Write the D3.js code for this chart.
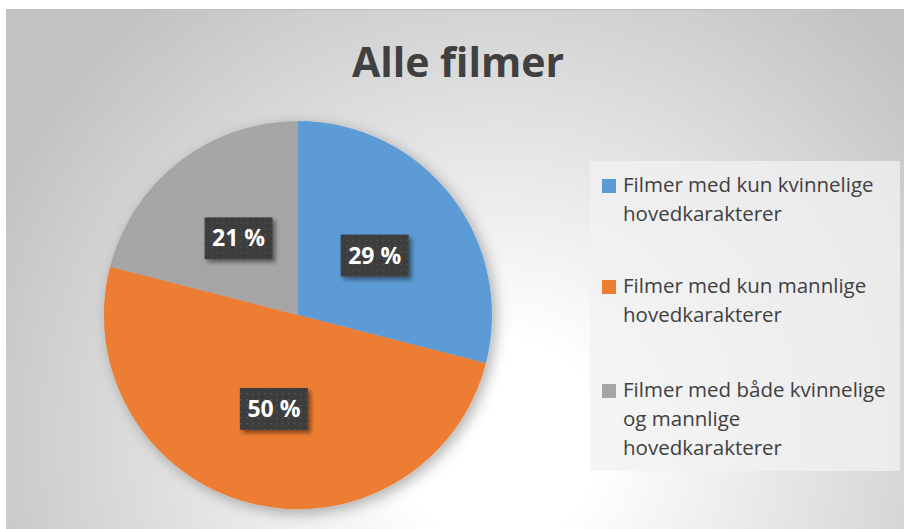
<!DOCTYPE html>
<html>
<head>
  <meta charset="utf-8">
  <title>Alle filmer</title>
  <script src="https://cdn.jsdelivr.net/npm/d3@7/dist/d3.min.js"></script>
  <style>
    body { margin: 0; background: #fff; }
    svg { display: block; font-family: 'Open Sans', sans-serif; }
  </style>
</head>
<body>
  <svg width="904" height="529" id="mainsvg"></svg>
  <script>
    // data
    const categories = [
      ['Filmer med kun kvinnelige', 'hovedkarakterer'],
      ['Filmer med kun mannlige', 'hovedkarakterer'],
      ['Filmer med både kvinnelige', 'og mannlige', 'hovedkarakterer']
    ];
    const shares = [29, 50, 21];
    const labels = ['29 %', '50 %', '21 %'];
    const colors = ['#5B9BD5', '#ED7D31', '#A5A5A5'];
    const title = 'Alle filmer';

    const svg = d3.select('svg');
    const width = +svg.attr('width');
    const height = +svg.attr('height');
    const defs = svg.append('defs');

    // background gradient
    const grad = defs.append('radialGradient').attr('id', 'bg')
      .attr('gradientUnits', 'userSpaceOnUse')
      .attr('cx', 500).attr('cy', 440).attr('r', 560);
    grad.append('stop').attr('offset', '0').attr('stop-color', '#ffffff');
    grad.append('stop').attr('offset', '0.18').attr('stop-color', '#ffffff');
    grad.append('stop').attr('offset', '1').attr('stop-color', '#c2c2c2');

    const pieShadow = defs.append('filter').attr('id', 'pieShadow')
      .attr('x', '-20%').attr('y', '-20%').attr('width', '140%').attr('height', '140%');
    pieShadow.append('feDropShadow').attr('dx', 4).attr('dy', 4)
      .attr('stdDeviation', 7).attr('flood-color', '#000').attr('flood-opacity', 0.3);

    const boxShadow = defs.append('filter').attr('id', 'boxShadow')
      .attr('x', '-20%').attr('y', '-20%').attr('width', '150%').attr('height', '150%');
    boxShadow.append('feDropShadow').attr('dx', 3).attr('dy', 3)
      .attr('stdDeviation', 2).attr('flood-color', '#000').attr('flood-opacity', 0.45);

    const dots = defs.append('pattern').attr('id', 'dots')
      .attr('patternUnits', 'userSpaceOnUse').attr('width', 6).attr('height', 6);
    dots.append('rect').attr('width', 6).attr('height', 6).attr('fill', '#3c3c3c');
    dots.append('rect').attr('x', 2).attr('y', 2).attr('width', 1.5).attr('height', 1.5).attr('fill', '#575757');

    svg.append('rect')
      .attr('x', 6).attr('y', 9).attr('width', width - 6).attr('height', height - 9)
      .attr('fill', 'url(#bg)');
    svg.append('line')
      .attr('x1', 6).attr('x2', width).attr('y1', 9.5).attr('y2', 9.5)
      .attr('stroke', '#bdbdbd');

    // title
    svg.append('text')
      .attr('x', 458).attr('y', 77)
      .attr('text-anchor', 'middle')
      .attr('font-size', '41px').attr('font-weight', 700)
      .attr('fill', '#404040')
      .text(title);

    // pie
    const cx = 298, cy = 315, radius = 194;
    const pie = d3.pie().sort(null).value(d => d);
    const arc = d3.arc().innerRadius(0).outerRadius(radius);
    const labelArc = d3.arc().innerRadius(radius * 0.5).outerRadius(radius * 0.5);
    const arcs = pie(shares);

    const pieGroup = svg.append('g')
      .attr('transform', `translate(${cx}, ${cy})`);
    pieGroup.append('g').attr('filter', 'url(#pieShadow)')
      .selectAll('path').data(arcs).join('path')
      .attr('d', arc)
      .attr('fill', (d, i) => colors[i]);

    const lab = pieGroup.selectAll('.lab').data(arcs).join('g')
      .attr('class', 'lab')
      .attr('transform', d => `translate(${labelArc.centroid(d)})`);
    lab.append('rect')
      .attr('x', -34).attr('y', -21).attr('width', 68).attr('height', 42)
      .attr('fill', 'url(#dots)')
      .attr('filter', 'url(#boxShadow)');
    lab.append('text')
      .attr('text-anchor', 'middle').attr('y', 8)
      .attr('font-size', '23px').attr('font-weight', 700)
      .attr('fill', '#ffffff')
      .text((d, i) => labels[i]);

    // legend
    const legend = svg.append('g');
    legend.append('rect')
      .attr('x', 590).attr('y', 161).attr('width', 310).attr('height', 310)
      .attr('fill', '#f2f2f2').attr('fill-opacity', 0.75);
    const rowY = [192, 293, 397];
    const item = legend.selectAll('.item').data(categories).join('g')
      .attr('class', 'item')
      .attr('transform', (d, i) => `translate(602, ${rowY[i]})`);
    item.append('rect')
      .attr('x', 0).attr('y', -13).attr('width', 14).attr('height', 14)
      .attr('fill', (d, i) => colors[i]);
    item.append('text')
      .attr('x', 21)
      .attr('font-size', '20.5px')
      .attr('fill', '#404040')
      .selectAll('tspan').data(d => d).join('tspan')
      .attr('x', 21).attr('dy', (d, i) => i === 0 ? 0 : 29)
      .text(d => d);
  </script>
</body>
</html>
